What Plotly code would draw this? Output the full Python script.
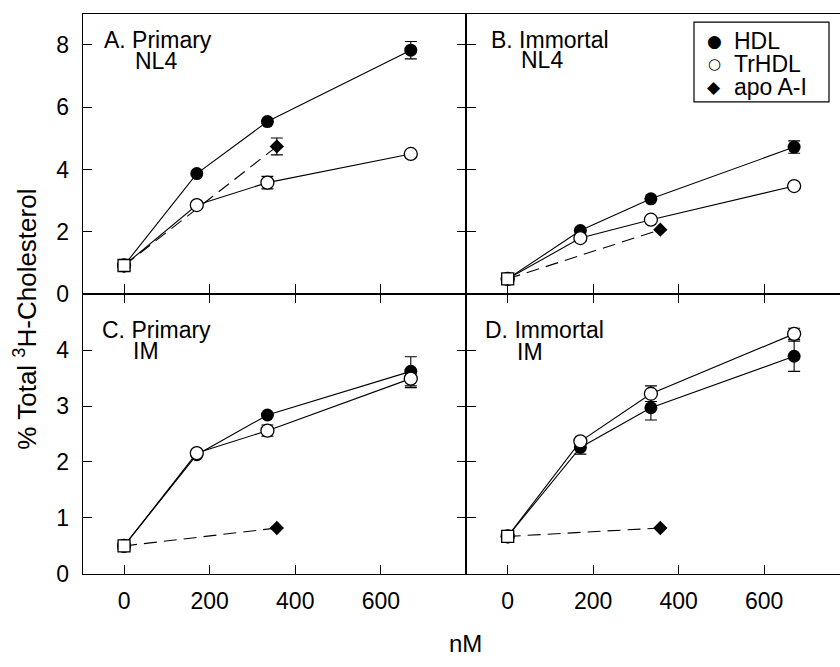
import plotly.graph_objects as go

W, H = 840, 667

# ---------------- data ----------------
conc = [0, 170, 335, 670]          # nM, HDL / TrHDL
apo_conc = [0, 357]                # nM, apo A-I

hdl_A = [0.92, 3.87, 5.54, 7.83]
hdl_A_err = [0, 0, 0, 0.28]
trhdl_A = [0.92, 2.86, 3.58, 4.50]
trhdl_A_err = [0, 0, 0.20, 0]
apo_A = [0.92, 4.74]
apo_A_err = [0, 0.27]

hdl_B = [0.49, 2.04, 3.06, 4.72]
hdl_B_err = [0, 0, 0, 0.20]
trhdl_B = [0.49, 1.80, 2.39, 3.47]
trhdl_B_err = [0, 0, 0, 0]
apo_B = [0.49, 2.07]
apo_B_err = [0, 0]

hdl_C = [0.50, 2.13, 2.84, 3.62]
hdl_C_err = [0, 0, 0, 0.26]
trhdl_C = [0.50, 2.16, 2.56, 3.49]
trhdl_C_err = [0, 0, 0.10, 0.16]
apo_C = [0.50, 0.82]
apo_C_err = [0, 0]

hdl_D = [0.67, 2.26, 2.97, 3.89]
hdl_D_err = [0, 0.12, 0.22, 0.27]
trhdl_D = [0.67, 2.37, 3.22, 4.29]
trhdl_D_err = [0, 0, 0.14, 0.10]
apo_D = [0.67, 0.82]
apo_D_err = [0, 0]

series_names = ["HDL", "TrHDL", "apo A-I"]
series_symbols = ["\u25CF", "\u25CB", "\u25C6"]
panel_titles = ["A. Primary", "B. Immortal", "C. Primary", "D. Immortal"]
panel_sub = ["NL4", "NL4", "IM", "IM"]
top_yticks = [0, 2, 4, 6, 8]
bot_yticks = [0, 1, 2, 3, 4]
xticks = [0, 200, 400, 600]

FONT = "Liberation Sans, Arial, Helvetica, sans-serif"
TICKSIZE = 23

def px(x):
    return x / W

def py(y):
    return 1 - y / H

XL, XM, XR = 82.7, 466.0, 840.0
YT, YM, YB = 14.0, 300.0, 585.3

fig = go.Figure()

panels = [
    ("x", "y", hdl_A, hdl_A_err, trhdl_A, trhdl_A_err, apo_A, apo_A_err),
    ("x2", "y2", hdl_B, hdl_B_err, trhdl_B, trhdl_B_err, apo_B, apo_B_err),
    ("x3", "y3", hdl_C, hdl_C_err, trhdl_C, trhdl_C_err, apo_C, apo_C_err),
    ("x4", "y4", hdl_D, hdl_D_err, trhdl_D, trhdl_D_err, apo_D, apo_D_err),
]

# connecting lines first
for xa, ya, h, he, t, te, a, ae in panels:
    fig.add_trace(go.Scatter(x=conc, y=h, mode="lines", xaxis=xa, yaxis=ya,
                             line=dict(color="black", width=1.1), showlegend=False, hoverinfo="skip"))
    fig.add_trace(go.Scatter(x=conc, y=t, mode="lines", xaxis=xa, yaxis=ya,
                             line=dict(color="black", width=1.1), showlegend=False, hoverinfo="skip"))
    fig.add_trace(go.Scatter(x=apo_conc, y=a, mode="lines", xaxis=xa, yaxis=ya,
                             line=dict(color="black", width=1.1, dash="13px,7px"),
                             showlegend=False, hoverinfo="skip"))

# markers with error bars
for i, (xa, ya, h, he, t, te, a, ae) in enumerate(panels):
    eb = dict(type="data", visible=True, color="black", thickness=1.1, width=6)
    fig.add_trace(go.Scatter(x=apo_conc, y=a, mode="markers", xaxis=xa, yaxis=ya, name=series_names[2],
                             marker=dict(symbol="diamond", size=11, color="black"),
                             error_y=dict(array=ae, **eb), showlegend=False))
    fig.add_trace(go.Scatter(x=conc, y=h, mode="markers", xaxis=xa, yaxis=ya, name=series_names[0],
                             marker=dict(symbol="circle", size=13, color="black"),
                             error_y=dict(array=he, **eb), showlegend=False))
    fig.add_trace(go.Scatter(x=conc, y=t, mode="markers", xaxis=xa, yaxis=ya, name=series_names[1],
                             marker=dict(symbol="circle", size=13, color="white",
                                         line=dict(color="black", width=1.3)),
                             error_y=dict(array=te, **eb), showlegend=False))
    # baseline (no acceptor) point, drawn as open square
    fig.add_trace(go.Scatter(x=conc[:1], y=h[:1], mode="markers", xaxis=xa, yaxis=ya,
                             marker=dict(symbol="square", size=12, color="white",
                                         line=dict(color="black", width=1.3)),
                             showlegend=False, hoverinfo="skip"))

axis_common = dict(showgrid=False, zeroline=False, showline=True, linecolor="black", linewidth=1.2,
                   ticks="inside", tickcolor="black", tickwidth=1.2,
                   tickfont=dict(family=FONT, size=TICKSIZE, color="black"))

fig.update_layout(
    width=W, height=H,
    margin=dict(l=0, r=0, t=0, b=0),
    paper_bgcolor="white", plot_bgcolor="white",
    font=dict(family=FONT, size=TICKSIZE, color="black"),
    showlegend=False,
    xaxis=dict(domain=[px(XL), px(XM)], range=[-96.6, 799], tickvals=xticks, showticklabels=False,
               ticklen=10, mirror=True, anchor="y", **axis_common),
    yaxis=dict(domain=[py(YM), py(YT)], range=[0, 9], tickvals=top_yticks, ticklen=9,
               mirror="ticks", anchor="x", ticklabelstandoff=8, **axis_common),
    xaxis2=dict(domain=[px(XM), px(XR)], range=[-97.5, 777.3], tickvals=xticks, showticklabels=False,
                ticklen=10, mirror=True, anchor="y2", **axis_common),
    yaxis2=dict(domain=[py(YM), py(YT)], range=[0, 9], tickvals=top_yticks, ticklen=10,
                showticklabels=False, anchor="x2", **axis_common),
    xaxis3=dict(domain=[px(XL), px(XM)], range=[-96.6, 799], tickvals=xticks, ticklen=9,
                mirror="ticks", anchor="y3", ticklabelstandoff=6, **axis_common),
    yaxis3=dict(domain=[py(YB), py(YM)], range=[0, 5], tickvals=bot_yticks, ticklen=9,
                mirror="ticks", anchor="x3", ticklabelstandoff=8, **axis_common),
    xaxis4=dict(domain=[px(XM), px(XR)], range=[-97.5, 777.3], tickvals=xticks, ticklen=9,
                mirror="ticks", anchor="y4", ticklabelstandoff=6, **axis_common),
    yaxis4=dict(domain=[py(YB), py(YM)], range=[0, 5], tickvals=bot_yticks, ticklen=10,
                showticklabels=False, anchor="x4", **axis_common),
)

# legend box (compact, as in the original figure)
fig.add_shape(type="rect", xref="paper", yref="paper",
              x0=px(694), x1=px(829), y0=py(104), y1=py(22.5),
              line=dict(color="black", width=1.2), fillcolor="white", layer="above")
legend_rows = [41.7, 65.3, 89.0]
for name, sym, yy in zip(series_names, series_symbols, legend_rows):
    fig.add_annotation(x=px(714), y=py(yy), xref="paper", yref="paper", text=sym, showarrow=False,
                       xanchor="center", yanchor="middle",
                       font=dict(family="DejaVu Sans", size=17 if sym != "\u25CB" else 15, color="black"))
    fig.add_annotation(x=px(732), y=py(yy), xref="paper", yref="paper", text=name, showarrow=False,
                       xanchor="left", yanchor="middle", font=dict(family=FONT, size=23, color="black"))

# panel labels (two lines, second indented)
label_pos = [(102.0, 133.0, 41.0, 62.0), (488.5, 519.0, 41.0, 61.5),
             (99.5, 131.0, 337.0, 358.0), (482.5, 514.5, 337.0, 359.0)]
for (x1, x2, y1, y2), t1, t2 in zip(label_pos, panel_titles, panel_sub):
    fig.add_annotation(x=px(x1), y=py(y1), xref="paper", yref="paper", text=t1, showarrow=False,
                       xanchor="left", yanchor="middle", font=dict(family=FONT, size=23, color="black"))
    fig.add_annotation(x=px(x2), y=py(y2), xref="paper", yref="paper", text=t2, showarrow=False,
                       xanchor="left", yanchor="middle", font=dict(family=FONT, size=23, color="black"))

# axis titles
fig.add_annotation(x=px(26), y=py(326), xref="paper", yref="paper",
                   text="% Total <sup>3</sup>H-Cholesterol", textangle=-90, showarrow=False,
                   xanchor="center", yanchor="middle", font=dict(family=FONT, size=26, color="black"))
fig.add_annotation(x=px(465), y=py(656), xref="paper", yref="paper", text="nM", showarrow=False,
                   xanchor="center", yanchor="middle", font=dict(family=FONT, size=24, color="black"))

fig.write_html("out.html", config={"displayModeBar": False},
               post_script="document.body.style.margin='0px';document.body.style.overflow='hidden';")
